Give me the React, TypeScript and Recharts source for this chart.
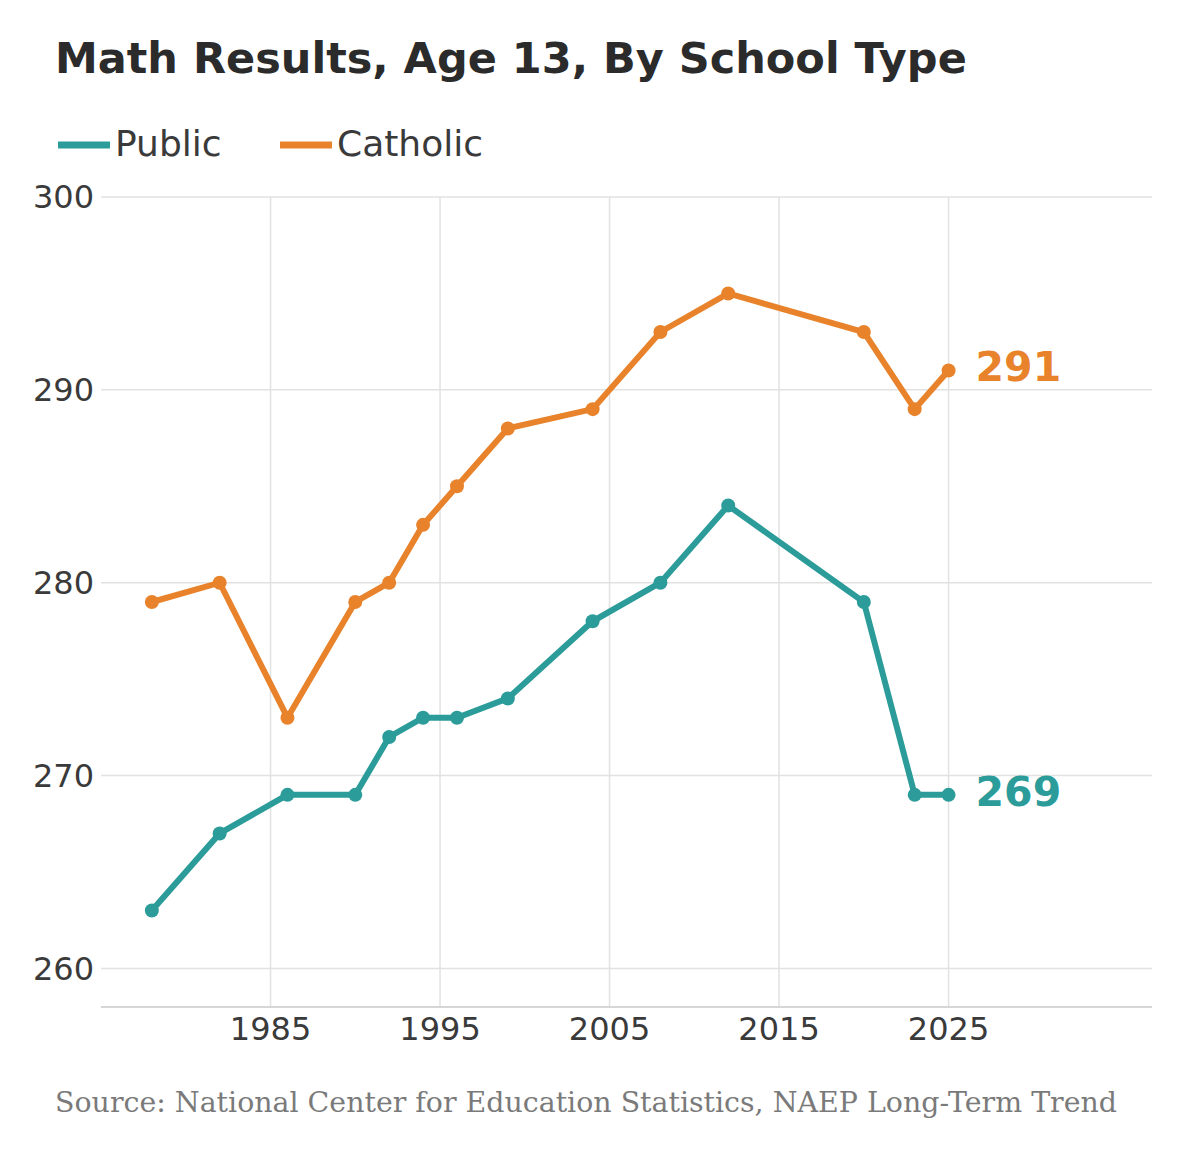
import React from 'react';
import { LineChart, Line, XAxis, YAxis, CartesianGrid, ReferenceLine } from 'recharts';

const years = [1978, 1982, 1986, 1990, 1992, 1994, 1996, 1999, 2004, 2008, 2012, 2020, 2023, 2025];
const publicScores = [263, 267, 269, 269, 272, 273, 273, 274, 278, 280, 284, 279, 269, 269];
const catholicScores = [279, 280, 273, 279, 280, 283, 285, 288, 289, 293, 295, 293, 289, 291];
const xTicks = [1985, 1995, 2005, 2015, 2025];
const yTicks = [260, 270, 280, 290, 300];
const seriesNames = ['Public', 'Catholic'];

const TEAL = '#2b9c99';
const ORANGE = '#e8832c';
const TEXT = '#3a3a3a';
const GRID = '#e2e2e2';

const data = years.map((y, i) => ({ year: y, pub: publicScores[i], cath: catholicScores[i] }));

const makeEndLabel = (color: string, values: number[]) => (props: any) => {
  const { x, y, index } = props;
  if (index !== values.length - 1) return null;
  return (
    <text
      key={`end-${color}`}
      x={x + 27}
      y={y - 4}
      dy="0.36em"
      fill={color}
      fontSize={41}
      fontWeight="bold"
      fontFamily="DejaVu Sans"
    >
      {values[index]}
    </text>
  );
};

export default function App() {
  return (
    <div style={{ position: 'relative', width: 1184, height: 1150, background: '#fff', fontFamily: 'DejaVu Sans' }}>
      <LineChart
        width={1184}
        height={1150}
        data={data}
        margin={{ top: 189, right: 40, bottom: 101, left: 0 }}
        style={{ position: 'absolute', left: 0, top: 0 }}
      >
        <CartesianGrid stroke={GRID} strokeWidth={1.5} vertical={false} horizontal={true} />
        {xTicks.map((t) => (
          <ReferenceLine key={`v-${t}`} x={t} stroke={GRID} strokeWidth={1.5} />
        ))}
        <XAxis
          dataKey="year"
          type="number"
          domain={[1975, 2037]}
          ticks={xTicks}
          height={50}
          axisLine={{ stroke: '#cfcfcf', strokeWidth: 1.5 }}
          tickLine={false}
          tickSize={0}
          tickMargin={10}
          tick={{ fill: TEXT, fontSize: 32, fontFamily: 'DejaVu Sans' }}
        />
        <YAxis
          type="number"
          domain={[258, 300]}
          ticks={yTicks}
          width={93}
          axisLine={false}
          tickLine={false}
          tickSize={0}
          tickMargin={7}
          tick={{ fill: TEXT, fontSize: 32, fontFamily: 'DejaVu Sans' }}
        />
        <Line
          dataKey="cath"
          name={seriesNames[1]}
          stroke={ORANGE}
          strokeWidth={6}
          dot={{ r: 7, fill: ORANGE, stroke: ORANGE, strokeWidth: 0 }}
          activeDot={false}
          isAnimationActive={false}
          label={makeEndLabel(ORANGE, catholicScores)}
        />
        <Line
          dataKey="pub"
          name={seriesNames[0]}
          stroke={TEAL}
          strokeWidth={6}
          dot={{ r: 7, fill: TEAL, stroke: TEAL, strokeWidth: 0 }}
          activeDot={false}
          isAnimationActive={false}
          label={makeEndLabel(TEAL, publicScores)}
        />
      </LineChart>
      <svg width={1184} height={1150} style={{ position: 'absolute', left: 0, top: 0, pointerEvents: 'none' }}>
        <text x={47} y={65} fontSize={43} fontWeight="bold" fill="#2b2b2b" fontFamily="DejaVu Sans">
          Math Results, Age 13, By School Type
        </text>
        <line x1={50} x2={102} y1={137} y2={137} stroke={TEAL} strokeWidth={7} />
        <text x={107} y={148} fontSize={36} fill={TEXT} fontFamily="DejaVu Sans">
          {seriesNames[0]}
        </text>
        <line x1={272} x2={324} y1={137} y2={137} stroke={ORANGE} strokeWidth={7} />
        <text x={329} y={148} fontSize={36} fill={TEXT} fontFamily="DejaVu Sans">
          {seriesNames[1]}
        </text>
        <text
          x={47}
          y={1104}
          fontSize={27}
          fill="#7a7a7a"
          fontFamily="DejaVu Serif"
          textLength={1062}
          lengthAdjust="spacingAndGlyphs"
        >
          Source: National Center for Education Statistics, NAEP Long-Term Trend
        </text>
      </svg>
    </div>
  );
}
